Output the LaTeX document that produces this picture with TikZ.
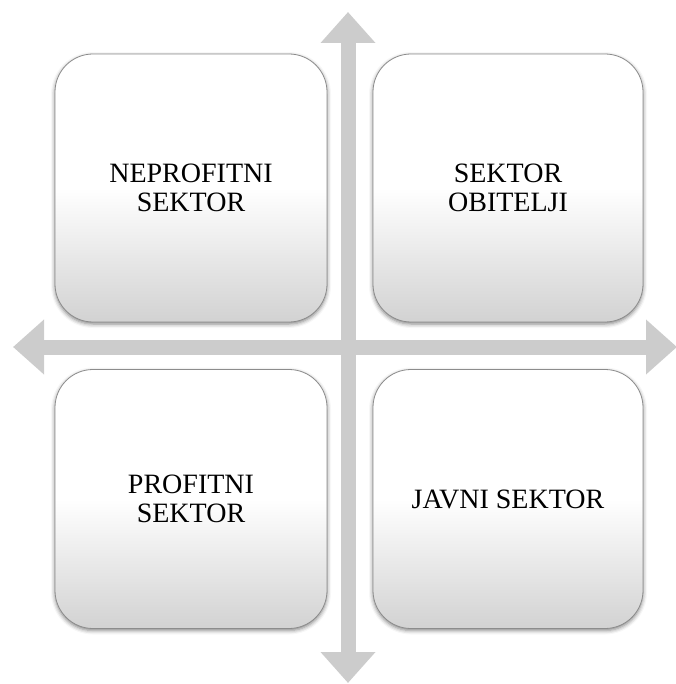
\documentclass[tikz,border=0pt]{standalone}
\usepackage{fontspec}
\setmainfont{Liberation Serif}
\usepackage{tikz}
\usetikzlibrary{arrows.meta,shadows.blur}
\definecolor{axisgray}{RGB}{204,204,204}
\definecolor{boxgray}{RGB}{210,210,210}
\definecolor{edgegray}{RGB}{140,140,140}
\tikzset{
	sector/.style={draw=edgegray, line width=0.8pt, rounded corners=38pt, top color=white, bottom color=boxgray, middle color=white, align=center, inner sep=0pt, font=\fontsize{28}{29}\selectfont, blur shadow={shadow xshift=0pt, shadow yshift=-2pt, shadow blur radius=4pt, shadow opacity=50}},
	axis/.style={axisgray, line width=15pt, {Triangle[length=31pt,width=53pt]}-{Triangle[length=31pt,width=53pt]}}
}
\begin{document}
\begin{tikzpicture}[x=1pt,y=-1pt]
		\useasboundingbox (0,0) rectangle (675,684);

		\coordinate (top) at (348,12);
		\coordinate (bottom) at (348,683);
		\coordinate (left) at (13,347);
		\coordinate (right) at (677,347);

		\draw[axis] (bottom) -- (top);
		\draw[axis] (left) -- (right);

		\node[sector, minimum width=272pt, minimum height=268pt] (neprofitni) at (191,188) {NEPROFITNI\\SEKTOR};
		\node[sector, minimum width=270pt, minimum height=268pt] (obitelji) at (508,188) {SEKTOR\\OBITELJI};
		\node[sector, minimum width=272pt, minimum height=259pt] (profitni) at (191,499) {PROFITNI\\SEKTOR};
		\node[sector, minimum width=270pt, minimum height=259pt] (javni) at (508,499) {JAVNI SEKTOR};
	\end{tikzpicture}
\end{document}
